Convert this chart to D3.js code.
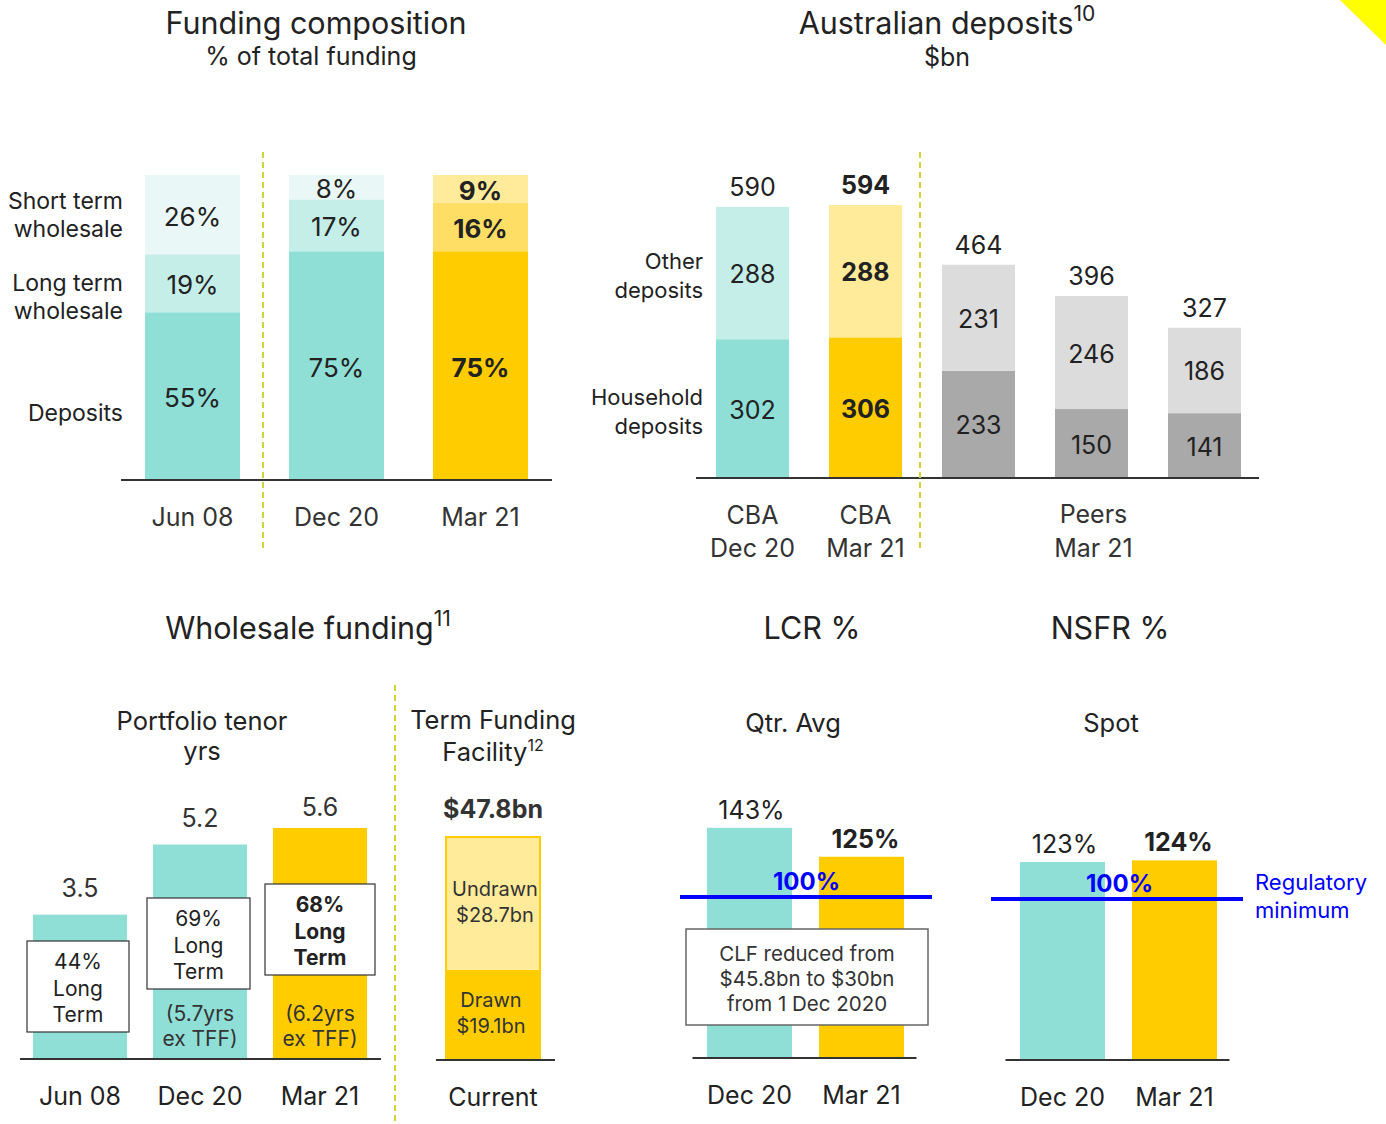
<!DOCTYPE html>
<html><head><meta charset="utf-8">
<script src="https://cdn.jsdelivr.net/npm/d3@7"></script>
<style>
body{margin:0;background:#fff}
svg{display:block}
text{font-family:Inter,"Noto Sans",sans-serif;fill:#222}
</style>
</head><body>
<svg id="chart" width="1386" height="1124"></svg>
<script>
// ---------- DATA ----------
// Funding composition (% of total funding)
const fcCategories = ["Jun 08", "Dec 20", "Mar 21"];
const fcDeposits   = [55, 75, 75];
const fcLongTerm   = [19, 17, 16];
const fcShortTerm  = [26, 8, 9];
const fcRowLabels  = [["Short term", "wholesale"], ["Long term", "wholesale"], ["Deposits"]];

// Australian deposits ($bn)
const adIds        = ["CBA Dec 20", "CBA Mar 21", "Peer 1", "Peer 2", "Peer 3"];
const adHousehold  = [302, 306, 233, 150, 141];
const adOther      = [288, 288, 231, 246, 186];
const adTotals     = [590, 594, 464, 396, 327];
const adRowLabels  = [["Other", "deposits"], ["Household", "deposits"]];

// Wholesale funding - portfolio tenor (yrs)
const wfCategories   = ["Jun 08", "Dec 20", "Mar 21"];
const wfTenor        = [3.5, 5.2, 5.6];
const wfLongTermPct  = [44, 69, 68];
const wfTenorExTFF   = [null, 5.7, 6.2];

// Term Funding Facility ($bn)
const tffParts  = ["Drawn", "Undrawn"];
const tffValues = [19.1, 28.7];
const tffTotal  = 47.8;

// LCR / NSFR (%)
const ratioCategories = ["Dec 20", "Mar 21"];
const lcrValues  = [143, 125];
const nsfrValues = [123, 124];
const regulatoryMinimum = 100;

// ---------- STYLE ----------
const C = {
  tealD: "#8fdfd7", tealM: "#c5eee9", tealL: "#e9f8f6",
  yelD: "#ffcc00", yelM: "#ffde66", yelL: "#ffeb9a",
  greyD: "#a9a9a9", greyL: "#dcdcdd",
  axis: "#333", dash: "#d2d23a", blue: "#0000ff", tri: "#ffff00"
};
const TITLE = 30.5, SUB = 25.5;

const svg = d3.select("#chart");

function lines(g, x, y, arr, lh, opts = {}) {
  const t = g.append("text")
    .attr("x", x).attr("y", y)
    .attr("text-anchor", opts.anchor || "middle")
    .attr("dominant-baseline", "central")
    .style("font-size", (opts.size || 22) + "px")
    .style("font-weight", opts.bold ? 700 : 400);
  if (opts.fill) t.style("fill", opts.fill);
  arr.forEach((s, i) => t.append("tspan").attr("x", x).attr("y", y + i * lh).text(s));
  return t;
}
function supTitle(g, x, y, main, sup, size, supSize, rise) {
  const t = g.append("text").attr("x", x).attr("y", y).attr("text-anchor", "middle")
    .attr("dominant-baseline", "central").style("font-size", size + "px");
  t.append("tspan").text(main);
  t.append("tspan").attr("dy", -(rise || 9)).style("font-size", (supSize || Math.round(size * 0.68)) + "px").text(sup);
  return t;
}
function hline(x1, x2, y, col, w) {
  svg.append("line").attr("x1", x1).attr("x2", x2).attr("y1", y).attr("y2", y)
    .attr("stroke", col || C.axis).attr("stroke-width", w || 2);
}
function vdash(x, y1, y2) {
  svg.append("line").attr("x1", x).attr("x2", x).attr("y1", y1).attr("y2", y2)
    .attr("stroke", C.dash).attr("stroke-width", 2).attr("stroke-dasharray", "6,4");
}

// corner triangle
svg.append("path").attr("d", "M1340,0L1386,0L1386,45Z").attr("fill", C.tri);

// ---------- PANEL 1: Funding composition ----------
{
  const g = svg.append("g");
  lines(g, 316, 22, ["Funding composition"], 0, {size: TITLE});
  lines(g, 311, 56, ["% of total funding"], 0, {size: 25});
  const x = d3.scalePoint().domain(fcCategories).range([192.5, 480.5]);
  const y = d3.scaleLinear().domain([0, 100]).range([480, 175]);
  const bw = 95;
  const pal = i => i === 2 ? [C.yelD, C.yelM, C.yelL] : [C.tealD, C.tealM, C.tealL];
  fcCategories.forEach((cat, i) => {
    const vals = [fcDeposits[i], fcLongTerm[i], fcShortTerm[i]];
    let acc = 0;
    vals.forEach((v, k) => {
      const y0 = y(acc), y1 = y(acc + v);
      g.append("rect").attr("x", x(cat) - bw / 2).attr("width", bw)
        .attr("y", y1).attr("height", y0 - y1).attr("fill", pal(i)[k]);
      lines(g, x(cat), (y0 + y1) / 2 + 1, [v + "%"], 0, {size: 26, bold: i === 2});
      acc += v;
    });
    lines(g, x(cat), 517, [cat], 0, {size: 25}).style("fill", "#333");
  });
  hline(121, 552, 480);
  // row labels, aligned to the first bar's segments
  const v0 = [fcDeposits[0], fcLongTerm[0], fcShortTerm[0]];
  const centers = [y(v0[0] + v0[1] + v0[2] / 2), y(v0[0] + v0[1] / 2) + 14, y(v0[0] / 2) + 17];
  fcRowLabels.forEach((l, k) => {
    lines(g, 123, centers[k] - (l.length - 1) * 14, l, 28, {anchor: "end", size: 23});
  });
  vdash(263, 152, 550);
}

// ---------- PANEL 2: Australian deposits ----------
{
  const g = svg.append("g");
  supTitle(g, 947, 22, "Australian deposits", "10", TITLE);
  lines(g, 947, 57, ["$bn"], 0, {size: 25});
  const x = d3.scalePoint().domain(adIds).range([752.5, 1204.5]);
  const y = d3.scaleLinear().domain([0, 594]).range([478, 205]);
  const bw = 73;
  const pal = i => i === 0 ? [C.tealD, C.tealM] : i === 1 ? [C.yelD, C.yelL] : [C.greyD, C.greyL];
  adIds.forEach((id, i) => {
    const vals = [adHousehold[i], adOther[i]];
    let acc = 0;
    vals.forEach((v, k) => {
      const y0 = y(acc), y1 = y(acc + v);
      g.append("rect").attr("x", x(id) - bw / 2).attr("width", bw)
        .attr("y", y1).attr("height", y0 - y1).attr("fill", pal(i)[k]);
      lines(g, x(id), (y0 + y1) / 2 + 1, [String(v)], 0, {size: 25, bold: i === 1});
      acc += v;
    });
    lines(g, x(id), y(adTotals[i]) - 20, [String(adTotals[i])], 0, {size: 25, bold: i === 1});
  });
  hline(696, 1259, 478);
  const c0 = [y(adHousehold[0] + adOther[0] / 2), y(adHousehold[0] / 2)];
  adRowLabels.forEach((l, k) => lines(g, 703, c0[k] - 12, l, 29, {anchor: "end", size: 22}));
  lines(g, x(adIds[0]), 515, ["CBA", "Dec 20"], 33, {size: 25}).style("fill", "#333");
  lines(g, x(adIds[1]), 515, ["CBA", "Mar 21"], 33, {size: 25}).style("fill", "#333");
  lines(g, (x(adIds[2]) + x(adIds[4])) / 2 + 2, 514, ["Peers", "Mar 21"], 34, {size: 25}).style("fill", "#333");
  vdash(920, 152, 552);
}

// ---------- PANEL 3: Wholesale funding ----------
{
  const g = svg.append("g");
  supTitle(g, 308, 627, "Wholesale funding", "11", TITLE);
  lines(g, 202, 720, ["Portfolio tenor", "yrs"], 30, {size: SUB});
  lines(g, 493, 719, ["Term Funding"], 0, {size: SUB});
  supTitle(g, 493, 751, "Facility", "12", SUB, 16, 6);

  const x = d3.scalePoint().domain(wfCategories).range([80, 320]);
  const y = d3.scaleLinear().domain([0, 5.6]).range([1059, 828]);
  const bw = 94;
  const boxTops = [941, 898, 884], boxW = [102, 103, 110], boxDx = [-2, -1.5, 0];
  wfCategories.forEach((cat, i) => {
    const col = i === 2 ? C.yelD : C.tealD;
    g.append("rect").attr("x", x(cat) - bw / 2).attr("width", bw)
      .attr("y", y(wfTenor[i])).attr("height", y(0) - y(wfTenor[i])).attr("fill", col);
    lines(g, x(cat), y(wfTenor[i]) - (i === 2 ? 21 : 27), [wfTenor[i].toFixed(1)], 0, {size: 25}).style("fill", "#333");
    const bx = x(cat) + boxDx[i] - boxW[i] / 2;
    g.append("rect").attr("x", bx).attr("y", boxTops[i]).attr("width", boxW[i]).attr("height", 91)
      .attr("fill", "#fff").attr("stroke", "#333").attr("stroke-width", 1.2);
    lines(g, x(cat) + boxDx[i], boxTops[i] + 20, [wfLongTermPct[i] + "%", "Long", "Term"], 26.5, {size: 21, bold: i === 2});
    if (wfTenorExTFF[i] != null) {
      lines(g, x(cat), 1013, ["(" + wfTenorExTFF[i] + "yrs", "ex TFF)"], 25, {size: 21}).style("fill", "#333");
    }
    lines(g, x(cat), 1096, [cat], 0, {size: 25});
  });
  hline(20, 381, 1059);

  // TFF
  const yt = d3.scaleLinear().domain([0, tffTotal]).range([1059, 836]);
  const cx = 493, tw = 96;
  let acc = 0;
  const tpal = [C.yelD, C.yelL];
  const tcent = [];
  tffValues.forEach((v, k) => {
    const y0 = yt(acc), y1 = yt(acc + v);
    g.append("rect").attr("x", cx - tw / 2).attr("width", tw).attr("y", y1).attr("height", y0 - y1).attr("fill", tpal[k]);
    tcent.push((y0 + y1) / 2);
    acc += v;
  });
  g.append("rect").attr("x", cx - tw / 2 + 1).attr("width", tw - 2).attr("y", yt(tffTotal) + 1)
    .attr("height", yt(0) - yt(tffTotal) - 1).attr("fill", "none").attr("stroke", C.yelD).attr("stroke-width", 2);
  tffParts.forEach((p, k) => {
    lines(g, cx + (k === 1 ? 2 : -2), tcent[k] - 14, [p, "$" + tffValues[k] + "bn"], 26, {size: 20}).style("fill", "#333");
  });
  lines(g, cx, 809, ["$" + tffTotal + "bn"], 0, {size: 25, bold: true}).style("fill", "#333");
  hline(436, 555, 1060);
  lines(g, cx, 1097, ["Current"], 0, {size: 25});
  vdash(395, 685, 1124);
}

// ---------- PANEL 4: LCR / NSFR ----------
function ratioPanel(centerL, centerR, base, pxPer, vals, lineX1, lineX2, title, tx, sub, sx) {
  const g = svg.append("g");
  lines(g, tx, 627, [title], 0, {size: TITLE});
  lines(g, sx, 722, [sub], 0, {size: SUB});
  const x = d3.scalePoint().domain(ratioCategories).range([centerL, centerR]);
  const y = d3.scaleLinear().domain([0, 100]).range([base, base - 100 * pxPer]);
  const bw = 85;
  ratioCategories.forEach((cat, i) => {
    g.append("rect").attr("x", x(cat) - bw / 2).attr("width", bw)
      .attr("y", y(vals[i])).attr("height", y(0) - y(vals[i])).attr("fill", i === 1 ? C.yelD : C.tealD);
    lines(g, x(cat) + (i === 1 ? 4 : 2), y(vals[i]) - 18, [vals[i] + "%"], 0, {size: 25, bold: i === 1});
    lines(g, x(cat), base + 37, [cat], 0, {size: 25});
  });
  hline(centerL - 57, centerR + 55, base);
  hline(lineX1, lineX2, y(regulatoryMinimum), C.blue, 4);
  lines(g, (centerL + centerR) / 2 + 1, y(regulatoryMinimum) - 16, [regulatoryMinimum + "%"], 0, {size: 24, bold: true, fill: C.blue});
  return {g, x, y};
}
{
  const lcr = ratioPanel(749.5, 861.5, 1058, 1.61, lcrValues, 680, 932, "LCR %", 812, "Qtr. Avg", 793);
  lcr.g.append("rect").attr("x", 686).attr("y", 929).attr("width", 242).attr("height", 96)
    .attr("fill", "#fff").attr("stroke", "#666").attr("stroke-width", 1.5);
  lines(lcr.g, 807, 953, ["CLF reduced from", "$45.8bn to $30bn", "from 1 Dec 2020"], 25, {size: 20.5}).style("fill", "#333");

  const ns = ratioPanel(1062.5, 1174.5, 1060, 1.61, nsfrValues, 991, 1243, "NSFR %", 1110, "Spot", 1111);
  lines(ns.g, 1255, 882, ["Regulatory", "minimum"], 28, {anchor: "start", size: 22, fill: C.blue});
}
</script>
</body></html>
